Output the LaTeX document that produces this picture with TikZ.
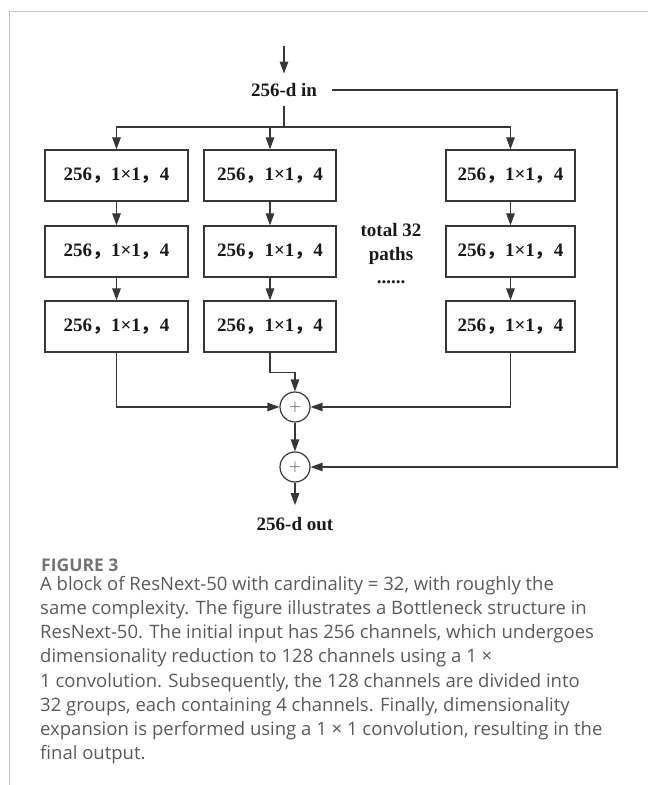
\documentclass[tikz,border=0pt]{standalone}
\usepackage{fontspec}
\usepackage{xcolor}
\usepackage{tikz}
\usetikzlibrary{arrows.meta, positioning, calc}
\setmainfont{Liberation Serif}
\newfontfamily\capfont{Open Sans}
\newfontfamily\cjk{Noto Sans CJK SC}
\definecolor{linegray}{RGB}{55, 55, 55}
\definecolor{framegray}{RGB}{195, 195, 195}
\definecolor{captiongray}{RGB}{90, 90, 90}
\newcommand{\convtxt}{256{\cjk ，}1×1{\cjk ，}4}

\begin{document}
\begin{tikzpicture}[
  x=1pt, y=1pt,
  conv/.style={draw=linegray, line width=1.3pt, minimum height=51pt, inner sep=0pt, font=\fontsize{19}{22}\selectfont\bfseries, text=black!90},
  lbl/.style={inner xsep=15pt, inner ysep=9.5pt, font=\fontsize{19}{22}\selectfont\bfseries, text=black!90},
  sumnode/.style={draw=linegray, circle, line width=1.2pt, minimum size=30pt, inner sep=0pt, font=\fontsize{17}{17}\selectfont\sffamily, text=linegray},
  arr/.style={-{Triangle[length=12pt, width=8.5pt]}, line width=1.3pt, linegray},
  wire/.style={line width=1.3pt, linegray},
  frame/.style={line width=1pt, framegray}
]
  \useasboundingbox (0,0) rectangle (648,785);
  \draw[frame] (9,0) -- (9,773) -- (648,773);

  % Input / output labels
  \coordinate (top) at (284,739);
  \node[lbl] (in) at (284,695) {256-d in};
  \node[lbl, inner ysep=12pt] (out) at (295,261) {256-d out};

  % Blocks
  \node[conv, minimum width=143pt] (b11) at (116.5,609.5) {\convtxt};
  \node[conv, minimum width=132pt] (b12) at (270,609.5) {\convtxt};
  \node[conv, minimum width=129pt] (b13) at (510.5,609.5) {\convtxt};

  \node[conv, minimum width=143pt] (b21) at (116.5,533.5) {\convtxt};
  \node[conv, minimum width=132pt] (b22) at (270,533.5) {\convtxt};
  \node[conv, minimum width=129pt] (b23) at (510.5,533.5) {\convtxt};

  \node[conv, minimum width=143pt] (b31) at (116.5,458.5) {\convtxt};
  \node[conv, minimum width=132pt] (b32) at (270,458.5) {\convtxt};
  \node[conv, minimum width=129pt] (b33) at (510.5,458.5) {\convtxt};

  \node[font=\fontsize{19}{23.5}\selectfont\bfseries, text=black!90, align=center] (paths) at (391,531) {total 32\\paths\\......};

  % Sums
  \node[sumnode] (plus1) at (295,378) {+};
  \node[sumnode] (plus2) at (295,318) {+};

  % Arrows
  \draw[arr] (top) -- (in);
  \draw[wire] (in.south) -- (284,658) coordinate (split);
  \draw[arr] (split) -| (b11.north);
  \draw[arr] (split) -| (b12.north);
  \draw[arr] (split) -| (b13.north);
  \foreach \c in {1,2,3}{
    \draw[arr] (b1\c) -- (b2\c);
    \draw[arr] (b2\c) -- (b3\c);
  }
  \draw[arr] (b31.south) |- (plus1.west);
  \draw[arr] (b32.south) -- ++(0,-20) -| (plus1.north);
  \draw[arr] (b33.south) |- (plus1.east);
  \draw[arr] (plus1) -- (plus2);
  \draw[arr] (in.east) -- (617,695) |- (plus2.east);
  \draw[arr] (plus2) -- (out);

  % Caption
  \node[anchor=base west, inner sep=0pt, font=\capfont\bfseries\fontsize{17.5}{20}\selectfont, text=captiongray!85] (fig) at (41,213) {FIGURE 3};
  \node[anchor=north west, inner sep=0pt, align=left, font=\capfont\fontsize{18.5}{24.2}\selectfont, text=captiongray] (cap) at (40,209) {A block of ResNext-50 with cardinality = 32, with roughly the\\
same complexity. The figure illustrates a Bottleneck structure in\\
ResNext-50. The initial input has 256 channels, which undergoes\\
dimensionality reduction to 128 channels using a 1 ×\\
1 convolution. Subsequently, the 128 channels are divided into\\
32 groups, each containing 4 channels. Finally, dimensionality\\
expansion is performed using a 1 × 1 convolution, resulting in the\\
final output.};
\end{tikzpicture}
\end{document}
